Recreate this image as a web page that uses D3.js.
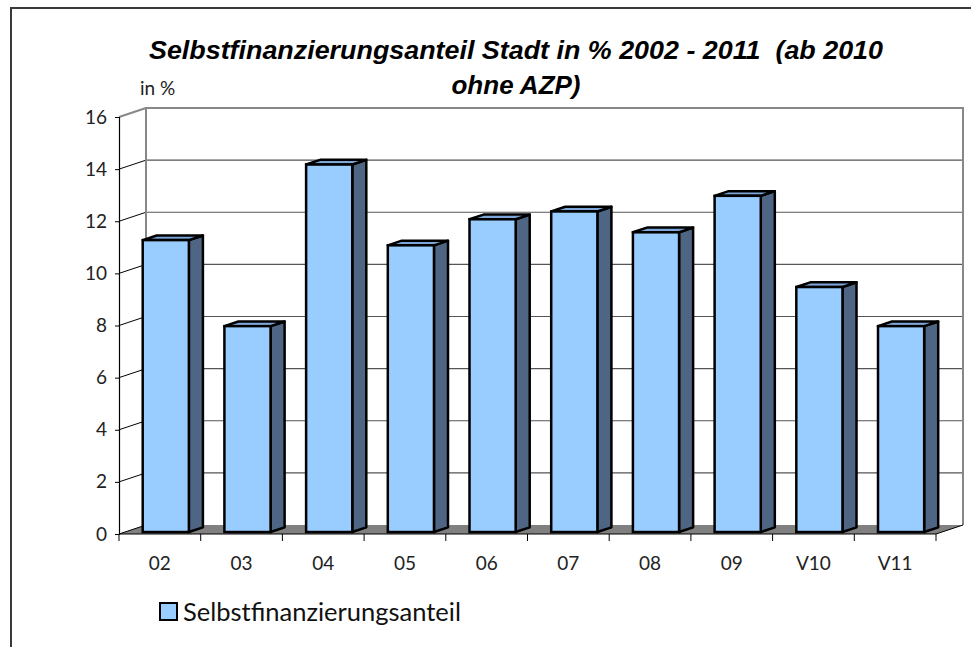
<!DOCTYPE html>
<html>
<head>
<meta charset="utf-8">
<script src="https://cdn.jsdelivr.net/npm/d3@7.9.0/dist/d3.min.js"></script>
<style>
  body { margin: 0; background: #fff; }
  svg { display: block; }
  text { white-space: pre; }
</style>
</head>
<body>
<svg id="chart" width="971" height="647"></svg>
<script>
const categories = ["02", "03", "04", "05", "06", "07", "08", "09", "V10", "V11"];
const values = [11.2, 7.9, 14.1, 11.0, 12.0, 12.3, 11.5, 12.9, 9.4, 7.9];
const yTicks = [0, 2, 4, 6, 8, 10, 12, 14, 16];
const seriesName = "Selbstfinanzierungsanteil";
const titleLines = ["Selbstfinanzierungsanteil Stadt in % 2002 - 2011  (ab 2010", "ohne AZP)"];

const svg = d3.select("#chart");
const labelFont = "Lato, 'Open Sans', sans-serif";

// depth of the 3d box
const depthX = 27, depthY = -9;
const off = d => [d * depthX, d * depthY];

const x = d3.scaleBand().domain(categories).range([119, 936]).padding(0);
const y = d3.scaleLinear().domain([0, 16]).range([534, 117]);

// outer frame (cut at right/bottom)
svg.append("rect")
  .attr("x", 11).attr("y", 8).attr("width", 1000).attr("height", 700)
  .attr("fill", "none").attr("stroke", "#3a3a3a").attr("stroke-width", 2);

// title
svg.append("g").selectAll("text")
  .data(titleLines)
  .join("text")
  .attr("x", 516)
  .attr("y", (d, i) => 59 + i * 35)
  .attr("text-anchor", "middle")
  .attr("font-family", "'Liberation Sans', Arial, sans-serif")
  .attr("font-weight", "bold")
  .attr("font-style", "italic")
  .attr("font-size", 26)
  .attr("fill", "#000")
  .attr("textLength", (d, i) => i === 0 ? 734 : null)
  .attr("lengthAdjust", "spacingAndGlyphs")
  .text(d => d);

svg.append("text")
  .attr("x", 140).attr("y", 95)
  .attr("font-family", labelFont)
  .attr("font-size", 19)
  .attr("fill", "#222")
  .text("in %");

const [x0, x1] = x.range();
const [bx, by] = off(1);

// floor
svg.append("path")
  .attr("d", `M${x0},${y(0)}L${x1},${y(0)}L${x1 + bx},${y(0) + by}L${x0 + bx},${y(0) + by}Z`)
  .attr("fill", "#808080");

// back wall gridlines
svg.append("g").selectAll("line")
  .data(yTicks.filter(t => t > 0 && t < 16))
  .join("line")
  .attr("x1", x0 + bx).attr("x2", x1 + bx)
  .attr("y1", d => y(d) + by).attr("y2", d => y(d) + by)
  .attr("stroke", "#555").attr("stroke-width", 1.2);

// left wall slant lines
svg.append("g").selectAll("line")
  .data(yTicks)
  .join("line")
  .attr("x1", x0).attr("x2", x0 + bx)
  .attr("y1", d => y(d)).attr("y2", d => y(d) + by)
  .attr("stroke", d => d === 16 ? "#888" : "#000").attr("stroke-width", d => d === 16 ? 2 : 1);

// back wall outline
svg.append("path")
  .attr("d", `M${x0 + bx},${y(0) + by}L${x0 + bx},${y(16) + by}L${x1 + bx},${y(16) + by}L${x1 + bx},${y(0) + by}`)
  .attr("fill", "none").attr("stroke", "#888").attr("stroke-width", 2);

// floor right slant
svg.append("line")
  .attr("x1", x1).attr("y1", y(0)).attr("x2", x1 + bx).attr("y2", y(0) + by)
  .attr("stroke", "#000").attr("stroke-width", 1);

// bars
const dFront = 0.22, dBack = 0.74;
const barW = x.bandwidth() * 0.565;
const bars = svg.append("g").selectAll("g")
  .data(categories.map((c, i) => ({ c, v: values[i] })))
  .join("g");

bars.each(function(d) {
  const g = d3.select(this);
  const l = x(d.c) + (x.bandwidth() - barW) / 2;
  const r = l + barW;
  const [fx, fy] = off(dFront);
  const [kx, ky] = off(dBack);
  const top = y(d.v), bot = y(0);
  // side
  g.append("path")
    .attr("d", `M${r + fx},${bot + fy}L${r + kx},${bot + ky}L${r + kx},${top + ky}L${r + fx},${top + fy}Z`)
    .attr("fill", "#4f6584").attr("stroke", "#000").attr("stroke-width", 2.5).attr("stroke-linejoin", "round");
  // top
  g.append("path")
    .attr("d", `M${l + fx},${top + fy}L${l + kx},${top + ky}L${r + kx},${top + ky}L${r + fx},${top + fy}Z`)
    .attr("fill", "#7ea6d8").attr("stroke", "#000").attr("stroke-width", 2.5).attr("stroke-linejoin", "round");
  // front
  g.append("rect")
    .attr("x", l + fx).attr("y", top + fy)
    .attr("width", barW).attr("height", bot - top)
    .attr("fill", "#99ccff").attr("stroke", "#000").attr("stroke-width", 2.5);
});

// y axis
const yAxis = svg.append("g")
  .attr("transform", `translate(${x0},0)`)
  .call(d3.axisLeft(y).tickValues(yTicks).tickSize(4).tickPadding(8).tickFormat(d3.format("d")));
yAxis.select(".domain").attr("stroke", "#000").attr("stroke-width", 1.2);
yAxis.selectAll("text").attr("font-family", labelFont).attr("font-size", 19).attr("fill", "#222");

// x axis line and ticks at band boundaries
svg.append("line")
  .attr("x1", x0).attr("x2", x1).attr("y1", y(0)).attr("y2", y(0))
  .attr("stroke", "#000").attr("stroke-width", 1.2);
svg.append("g").selectAll("line")
  .data(categories.map(c => x(c)).concat([x1]))
  .join("line")
  .attr("x1", d => d).attr("x2", d => d)
  .attr("y1", y(0)).attr("y2", y(0) + 7)
  .attr("stroke", "#000").attr("stroke-width", 1);
svg.append("g").selectAll("text")
  .data(categories)
  .join("text")
  .attr("x", d => x(d) + x.bandwidth() / 2)
  .attr("y", 570)
  .attr("text-anchor", "middle")
  .attr("font-family", labelFont)
  .attr("font-size", 19)
  .attr("fill", "#222")
  .text(d => d);

// legend
svg.append("rect")
  .attr("x", 160).attr("y", 603).attr("width", 17).attr("height", 17)
  .attr("fill", "#99ccff").attr("stroke", "#000").attr("stroke-width", 2);
svg.append("text")
  .attr("x", 183).attr("y", 621)
  .attr("font-family", labelFont)
  .attr("font-size", 25.5)
  .attr("fill", "#111")
  .text(seriesName);
</script>
</body>
</html>
